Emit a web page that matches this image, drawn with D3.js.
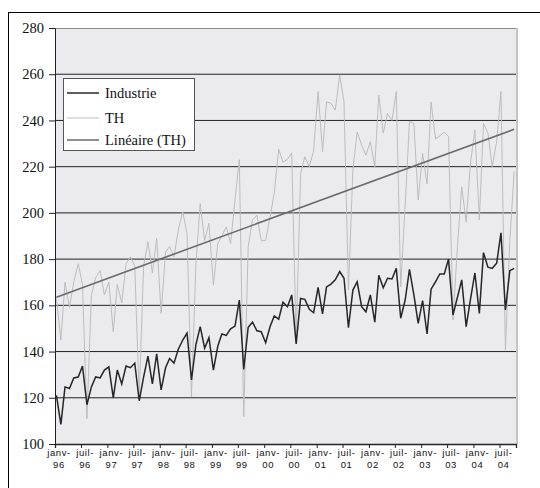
<!DOCTYPE html>
<html><head><meta charset="utf-8">
<script src="https://cdn.jsdelivr.net/npm/d3@7"></script>
<style>
html,body{margin:0;padding:0;background:#fff;}
svg{display:block;}
</style></head>
<body>
<svg id="c" width="540" height="488"></svg>
<script>
// ---- data (monthly, janv-96 .. oct-04) ----
const startYear = 1996;
const industrie = [
121,108.5,124.7,124,128.6,129,133.7,117,124.7,129,128.6,132,
133.4,120,132,126,133.7,133,135,118.7,129,138,126,139,
123.4,133,137,135,141,145,148,127.7,143,150.8,141.5,146,
132,142.4,147.6,147,149.8,151,162.3,132.3,150.5,152.7,149,148.6,
143.8,150.8,155.4,154,161.3,159.4,164.5,143.3,163,162.6,158.3,156.8,
167.8,156.3,168,169.2,171,174.6,171.7,150.3,166.6,170.2,159.4,157.2,
164.5,152.7,173,167.6,171.7,171.4,176,154.4,162.3,175.6,164.5,152.2,
162,147.6,167,170.2,173.6,173.6,180,155.8,163.5,171,150.8,162.6,
174,156.5,182.8,176.5,176,178.2,191.4,158,175,176
];
const th = [
163,145,170,159,170,178,169,111,164.5,172,175,164.5,
170,148.6,169,161,178,181,177,120.5,177,187.5,174,189,
156.5,183,185.4,181,192.6,200.5,191,120.5,178,204,188,195.5,
168.8,186.8,190,194,186.8,205.6,223,111.8,185.4,197,199,188,
188,198.4,208.5,227.5,222,223.2,226,145,217,224.3,220,227,
252.5,226.5,248,247.4,244.5,259.7,248,166.6,218.6,235,229.4,225,
230.8,220,251,234.5,243,240,252.5,168,203,239.5,238.7,205.6,
225.7,212.5,248,232,233.3,235,233,153.6,185.4,211.3,196,221.6,
235.9,197,238.7,234.5,220,230.8,252.5,140.7,188,218
];
const yTicks = [100,120,140,160,180,200,220,240,260,280];
const monthNames = ["janv-","juil-"];
const seriesNames = ["Industrie","TH","Linéaire (TH)"];

// ---- layout ----
const svg = d3.select("#c");
const L = 55, R = 516, T = 28, B = 444;

const dates = industrie.map((d,i)=> new Date(startYear, i, 11));
const x = d3.scaleTime()
  .domain([new Date(startYear,0,1), new Date(2004,9,24)])
  .range([L, R]);
const y = d3.scaleLinear().domain([100,280]).range([B, T]);

// outer frame
svg.append("rect").attr("x",8.5).attr("y",12.5).attr("width",560).attr("height",500)
  .attr("fill","#fff").attr("stroke","#000").attr("stroke-width",1);

// plot background
svg.append("rect").attr("x",L).attr("y",T).attr("width",R-L).attr("height",B-T)
  .attr("fill","#ebebee");
// top border + right shadow
svg.append("line").attr("x1",L).attr("x2",R).attr("y1",T+0.5).attr("y2",T+0.5)
  .attr("stroke","#8a8a8a");
svg.append("line").attr("x1",R+1).attr("x2",R+1).attr("y1",T).attr("y2",B)
  .attr("stroke","#c4c4c4").attr("stroke-width",2);

// gridlines
svg.append("g").selectAll("line").data(yTicks.slice(1,-1)).join("line")
  .attr("x1",L).attr("x2",R).attr("y1",d=>y(d)).attr("y2",d=>y(d))
  .attr("stroke","#222").attr("stroke-width",1);

// y axis
const yAxis = d3.axisLeft(y).tickValues(yTicks).tickSize(6).tickPadding(5)
  .tickFormat(d3.format("d"));
const gy = svg.append("g").attr("transform",`translate(${L},0)`).call(yAxis);
gy.select(".domain").attr("stroke","#222");
gy.selectAll(".tick line").attr("stroke","#222");
gy.selectAll("text").attr("font-family","'Liberation Serif','Times New Roman',serif")
  .attr("font-size","14.5px").attr("fill","#111");

// x axis
const xTickDates = d3.range(0, 103, 6).map(m => new Date(startYear, m, 1));
const xAxis = d3.axisBottom(x).tickValues(xTickDates).tickSize(4).tickFormat("");
const gx = svg.append("g").attr("transform",`translate(0,${B})`).call(xAxis);
gx.select(".domain").attr("stroke","#222").attr("stroke-width",1.3);
gx.selectAll(".tick line").attr("stroke","#222");
const xl = svg.append("g");
xTickDates.forEach(d=>{
  const t = xl.append("text").attr("text-anchor","middle")
    .attr("font-family","'Liberation Sans',Arial,sans-serif").attr("font-size","9.5px")
    .attr("letter-spacing","0.6px").attr("fill","#111")
    .attr("transform",`translate(${x(d)+4},0)`);
  t.append("tspan").attr("x",0).attr("y",456).text(monthNames[d.getMonth()===0?0:1]);
  t.append("tspan").attr("x",0).attr("y",467.5).text(String(d.getFullYear()).slice(2));
});

// series
const line = d3.line().x((d,i)=>x(dates[i])).y(d=>y(d));
svg.append("path").datum(th).attr("d",line).attr("fill","none")
  .attr("stroke","#bdbdbd").attr("stroke-width",1);

// linear trend of TH (least squares)
const n = th.length, idx = d3.range(n);
const mx = d3.mean(idx), my = d3.mean(th);
const slope = d3.sum(idx,i=>(i-mx)*(th[i]-my)) / d3.sum(idx,i=>(i-mx)*(i-mx));
const icpt = my - slope*mx;
svg.append("line")
  .attr("x1",x(dates[0])).attr("y1",y(icpt))
  .attr("x2",x(dates[n-1])).attr("y2",y(icpt+slope*(n-1)))
  .attr("stroke","#6a6a6a").attr("stroke-width",1.6);

svg.append("path").datum(industrie).attr("d",line).attr("fill","none")
  .attr("stroke","#262626").attr("stroke-width",1.5).attr("stroke-linejoin","miter");

// legend
const lg = svg.append("g");
lg.append("rect").attr("x",63.5).attr("y",78.5).attr("width",131).attr("height",72)
  .attr("fill","#fff").attr("stroke","#555");
const legColors = ["#262626","#bdbdbd","#6a6a6a"];
const legY = [93, 118, 140];
seriesNames.forEach((s,k)=>{
  lg.append("line").attr("x1",67).attr("x2",99).attr("y1",legY[k]).attr("y2",legY[k])
    .attr("stroke",legColors[k]).attr("stroke-width",k===1?1:1.5);
  lg.append("text").attr("x",105).attr("y",legY[k]+5)
    .attr("font-family","'Liberation Serif','Times New Roman',serif")
    .attr("font-size","14.5px").attr("fill","#111").text(s);
});
</script>
</body></html>
